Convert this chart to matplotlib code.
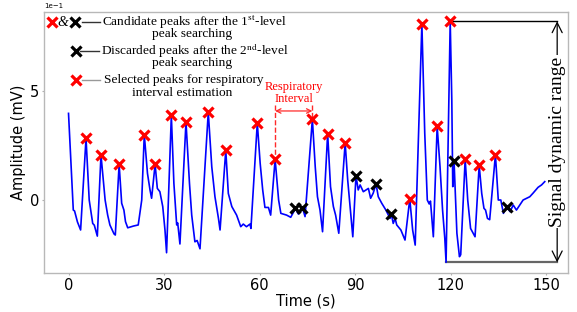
import matplotlib
matplotlib.use("Agg")
import matplotlib.pyplot as plt
from matplotlib.ticker import MultipleLocator
import numpy as np

plt.rcParams['mathtext.fontset'] = 'stix'

# ---- data (time in s, amplitude in mV) ----
time_s = [0, 1.5, 1.9, 2.8, 3.8, 5.5, 6.5, 7.6, 8.1, 9.05, 10.2, 11.5, 12.3, 13.0, 14.3, 14.7,
          15.9, 16.7, 17.4, 17.9, 18.6, 20.4, 21.9, 23.0, 23.8, 24.8, 25.6, 26.1, 27.2, 27.9,
          28.7, 29.6, 30.3, 30.8, 32.3, 33.1, 33.98, 34.3, 35.0, 36.9, 38.0, 38.7, 39.7, 40.4,
          41.3, 43.9, 45.0, 46.0, 47.1, 47.6, 49.4, 50.2, 51.3, 52.8, 54.1, 54.9, 55.9, 57.0,
          57.3, 59.3, 60.2, 61.0, 61.7, 62.8, 63.5, 64.9, 66.0, 66.7, 68.5, 69.8, 71.3, 72.2,
          73.5, 74.3, 76.6, 77.5, 78.2, 79.0, 79.8, 81.4, 82.3, 83.2, 83.9, 84.9, 86.9, 87.7,
          88.6, 89.3, 90.3, 91.0, 91.6, 92.6, 94.2, 94.9, 95.7, 96.6, 97.3, 98.4, 99.7, 101.0,
          101.4, 102.0, 102.6, 103.1, 104.4, 105.7, 107.2, 108.1, 108.9, 111.0, 111.9, 112.7,
          113.3, 113.7, 114.6, 115.8, 116.7, 117.5, 118.2, 118.6, 119.9, 120.4, 120.7, 121.1,
          122.0, 122.8, 123.2, 124.6, 125.4, 126.3, 127.7, 129.0, 129.8, 130.5, 131.0, 131.6,
          132.3, 134.1, 135.0, 135.8, 136.6, 137.7, 138.7, 139.7, 140.7, 142.8, 144.9, 145.9,
          147.5, 148.6, 149.6]
amp_mv = [0.396, -0.046, -0.050, -0.100, -0.137, 0.282, 0.000, -0.107, -0.115, -0.165, 0.206,
          0.000, -0.069, -0.114, -0.155, -0.160, 0.163, -0.015, -0.046, -0.099, -0.127, -0.119,
          -0.114, 0.000, 0.299, 0.122, 0.046, 0.008, 0.163, 0.053, 0.038, -0.030, -0.137, -0.241,
          0.387, 0.076, -0.114, -0.105, -0.201, 0.357, 0.076, -0.069, -0.191, -0.185, -0.223,
          0.401, 0.152, 0.015, -0.084, -0.137, 0.227, 0.030, -0.030, -0.069, -0.122, -0.110,
          -0.122, -0.110, -0.130, 0.352, 0.168, 0.046, -0.034, -0.034, -0.069, 0.186, 0.000,
          -0.061, -0.069, -0.079, -0.038, -0.064, -0.035, -0.076, 0.369, 0.152, 0.015, -0.046,
          -0.145, 0.303, 0.061, -0.030, -0.069, -0.152, 0.261, 0.091, -0.053, -0.168, 0.111,
          0.046, 0.069, 0.038, 0.053, 0.008, 0.031, 0.074, 0.015, -0.015, -0.046, -0.084,
          -0.063, -0.107, -0.084, -0.114, -0.137, -0.183, 0.005, -0.137, -0.206, 0.805, 0.306,
          0.000, -0.018, -0.005, -0.168, 0.337, 0.152, -0.046, -0.175, -0.285, 0.817, 0.457,
          0.061, 0.180, -0.152, -0.259, -0.250, 0.187, 0.000, -0.130, -0.168, 0.158, 0.030,
          -0.038, -0.046, -0.084, -0.090, 0.207, 0.000, 0.000, -0.061, -0.032, -0.053, -0.023,
          -0.046, 0.000, 0.015, 0.031, 0.058, 0.069, 0.084]

selected_t = [5.5, 10.2, 15.9, 23.8, 27.2, 32.3, 36.9, 43.9, 49.4, 59.3, 64.9, 76.6, 81.4,
              86.9, 107.2, 111.0, 115.8, 119.9, 124.6, 129.0, 134.1]
selected_v = [0.282, 0.206, 0.163, 0.299, 0.163, 0.387, 0.357, 0.401, 0.227, 0.352, 0.186,
              0.369, 0.303, 0.261, 0.005, 0.805, 0.337, 0.817, 0.187, 0.158, 0.207]
discarded_t = [71.3, 73.5, 90.3, 96.6, 101.4, 121.1, 137.7]
discarded_v = [-0.038, -0.035, 0.111, 0.074, -0.063, 0.180, -0.032]

x_ticks = [0, 30, 60, 90, 120, 150]
interval_peaks = [64.9, 76.6]
range_x = 153.5

W, H = 577, 312
fig = plt.figure(figsize=(W / 100, H / 100), dpi=100)
ax = fig.add_axes([44 / W, 1 - 273.3 / H, (568 - 44) / W, (273.3 - 12.3) / H])

ax.plot(time_s, amp_mv, color='#0000ff', lw=1.2, zorder=2)
ax.plot(selected_t, selected_v, 'x', color='#ff0000', ms=6.5, mew=2.3, zorder=3)
ax.plot(discarded_t, discarded_v, 'x', color='black', ms=6.5, mew=2.3, zorder=3)

ax.set_xlim(-7.7, 156.9)
ax.set_ylim(-0.335, 0.858)
ax.set_xticks(x_ticks)
ax.yaxis.set_major_locator(MultipleLocator(0.5))
ax.ticklabel_format(axis='y', style='sci', scilimits=(0, 0))
ax.yaxis.offsetText.set_fontsize(5)
ax.tick_params(labelsize=10.5, length=1.5, color='#b0b0b0', width=0.8, pad=2)
for s in ax.spines.values():
    s.set_color('#b8b8b8')
    s.set_linewidth(1.0)
ax.set_xlabel('Time (s)', fontsize=10.5, labelpad=0)
ax.set_ylabel('Amplitude (mV)', fontsize=10.5, labelpad=3)

# ---- signal dynamic range annotation ----
top_v = max(amp_mv)
bot_v = min(amp_mv)
t_top = time_s[int(np.argmax(amp_mv))]
t_bot = time_s[int(np.argmin(amp_mv))]
ax.plot([t_top, range_x], [top_v, top_v], color='black', lw=1.0, zorder=1)
ax.plot([t_bot, range_x], [bot_v, bot_v], color='#666666', lw=1.6, zorder=1)
ax.annotate('', xy=(range_x, top_v), xytext=(range_x, bot_v),
            arrowprops=dict(arrowstyle='<->', color='black', lw=0.9, mutation_scale=18,
                            shrinkA=0, shrinkB=0))
ax.text(range_x, (top_v + bot_v) / 2 + 0.001, 'Signal dynamic range', rotation=90,
        ha='center', va='center', fontsize=14, family='Liberation Serif',
        bbox=dict(facecolor='white', edgecolor='none', pad=1))

# ---- respiratory interval annotation ----
rc = '#ff2a2a'
arr_v = 0.407
ax.plot([interval_peaks[0]] * 2, [0.434, 0.186], ls='--', color=rc, lw=1.0)
ax.plot([interval_peaks[1]] * 2, [0.434, 0.369], ls='--', color=rc, lw=1.0)
ax.annotate('', xy=(interval_peaks[0], arr_v), xytext=(interval_peaks[1], arr_v),
            arrowprops=dict(arrowstyle='<->', color=rc, lw=0.9, mutation_scale=8,
                            shrinkA=0, shrinkB=0))
ax.text(sum(interval_peaks) / 2, 0.489, 'Respiratory\nInterval', color='#ff0000',
        ha='center', va='center', fontsize=9, family='Liberation Serif', linespacing=0.95)

# ---- custom legend (figure pixel coords) ----
def fx(px):
    return px / W

def fy(py):
    return 1 - py / H

def mark(px, py, c):
    fig.lines.append(plt.Line2D([fx(px)], [fy(py)], marker='x', color=c, ms=6.5, mew=2.3,
                                transform=fig.transFigure))

def seg(x0, x1, py, c):
    fig.lines.append(plt.Line2D([fx(x0), fx(x1)], [fy(py)] * 2, color=c, lw=1.0,
                                transform=fig.transFigure))

lf = dict(family='Liberation Serif', fontsize=9.6, va='center', color='black')
mark(51.7, 22.3, '#ff0000')
fig.text(fx(63), fy(22.3), '&', ha='center', family='Liberation Serif', fontsize=10,
         va='center', style='italic')
mark(75, 22.3, 'black')
seg(82, 100, 22.3, '#333333')
fig.text(fx(102), fy(22.3), r'Candidate peaks after the 1$^{\mathrm{st}}$-level', ha='left', **lf)
fig.text(fx(192.5), fy(34.5), 'peak searching', ha='center', **lf)
mark(76, 50.7, 'black')
seg(80, 99, 50.7, '#333333')
fig.text(fx(101), fy(51), r'Discarded peaks after the 2$^{\mathrm{nd}}$-level', ha='left', **lf)
fig.text(fx(192.5), fy(63), 'peak searching', ha='center', **lf)
mark(76, 80, '#ff0000')
seg(82, 100, 80, '#999999')
fig.text(fx(104), fy(80), 'Selected peaks for respiratory', ha='left', **lf)
fig.text(fx(182.5), fy(93), 'interval estimation', ha='center', **lf)

fig.savefig('out.png', dpi=100)
